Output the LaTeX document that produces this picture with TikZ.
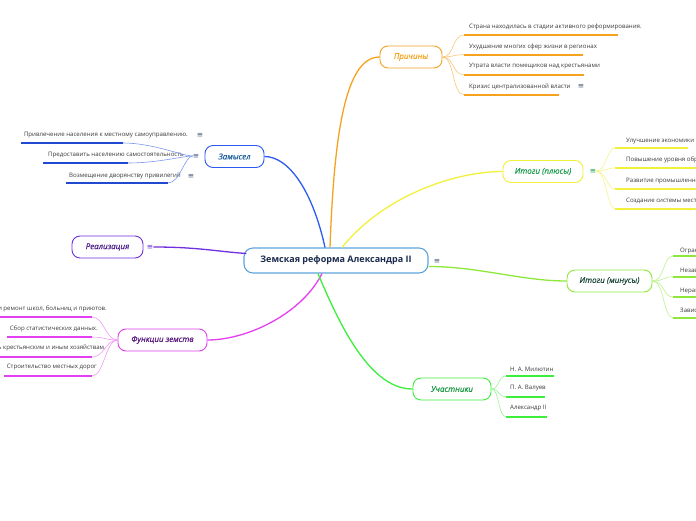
\documentclass[tikz,border=0pt]{standalone}
\usepackage{fontspec}
\setmainfont{Open Sans}
\newfontfamily\symfont{DejaVu Sans}
\newfontfamily\brfont[ItalicFeatures={FakeBold=0.5}]{Open Sans}
\usepackage{xcolor}
\usetikzlibrary{calc}
\definecolor{hubC}{HTML}{5DA5DC}
\definecolor{hubT}{HTML}{1A2B4D}
\definecolor{orC}{HTML}{F5A31E}
\definecolor{orL}{HTML}{F9C874}
\definecolor{blC}{HTML}{2D5BF0}
\definecolor{blT}{HTML}{1B5E9E}
\definecolor{blU}{HTML}{2148D0}
\definecolor{blL}{HTML}{7C98F2}
\definecolor{puC}{HTML}{7030E0}
\definecolor{puT}{HTML}{4B1B8A}
\definecolor{mgC}{HTML}{E43FF0}
\definecolor{mgL}{HTML}{F09AF6}
\definecolor{mgT}{HTML}{5B1B80}
\definecolor{yeC}{HTML}{F2F03A}
\definecolor{yeL}{HTML}{F6F48A}
\definecolor{yeT}{HTML}{1E9E50}
\definecolor{lgC}{HTML}{8EE83A}
\definecolor{lgL}{HTML}{BDF28C}
\definecolor{lgT}{HTML}{1D4A3A}
\definecolor{grC}{HTML}{3DEE3D}
\definecolor{grL}{HTML}{98F598}
\definecolor{grT}{HTML}{1B9A45}
\definecolor{leafT}{HTML}{3A3A3A}
\definecolor{hamC}{HTML}{4A5A7A}

\begin{document}
\begin{tikzpicture}[x=1pt,y=-1pt,
  hub/.style={draw=hubC,line width=1.1pt,rounded corners=9pt,fill=white,
    minimum width=184pt,minimum height=25pt,text=hubT,
    font=\fontsize{9}{10}\selectfont\bfseries},
  branch/.style={rounded corners=8pt,line width=0.9pt,fill=white,
    minimum height=22pt,font=\brfont\fontsize{8}{9}\selectfont\itshape},
  leaf/.style={anchor=west,inner sep=0pt,text=leafT,
    font=\fontsize{6.1}{7}\selectfont},
  ham/.style={inner sep=0pt,text=hamC,font=\symfont\fontsize{7.5}{8}\selectfont},
  main/.style={line width=1.3pt},
  twig/.style={line width=0.6pt},
  uline/.style={line width=1.8pt}]
\path[use as bounding box,fill=white] (0,0) rectangle (696,520);

% centre and main branches
\node[hub] (hub) at (336,260.5) {Земская реформа Александра II};
\node[ham] (hubm) at (437,261) {≡};
\node[branch,draw=orC,text=orC,minimum width=62pt] (why) at (411,57) {Причины};
\node[branch,draw=blC,text=blT,minimum width=59pt] (idea) at (234.5,156.5) {Замысел};
\node[ham] (ideam) at (196,156) {≡};
\node[branch,draw=puC,text=puT,minimum width=71pt] (impl) at (107.5,247) {Реализация};
\node[ham,text=puC] (implm) at (150,247) {≡};
\node[branch,draw=mgC,text=mgT,minimum width=89pt] (func) at (162.5,340) {Функции земств};
\node[branch,draw=yeC,text=yeT,minimum width=80pt] (plus) at (543,171.5) {Итоги (плюсы)};
\node[ham,text=yeT] (plusm) at (593,171) {≡};
\node[branch,draw=lgC,text=lgT,minimum width=85pt] (minus) at (609.5,281) {Итоги (минусы)};
\node[branch,draw=grC,text=grT,minimum width=78pt] (who) at (452,389) {Участники};

% connectors from the centre
\draw[main,orC] ($(hub.north)+(-6,0)$) .. controls +(4,-110) and +(-35,0) .. (why.west);
\draw[main,blC] ($(hub.north)+(-11,0)$) .. controls +(-12,-55) and +(25,0) .. (idea.east);
\draw[main,yeC] ($(hub.north)+(6,0)$) .. controls +(40,-50) and +(-50,0) .. (plus.west);
\draw[main,puC] (implm.east) .. controls +(45,0) and +(-30,-2) .. ($(hub.west)+(3,-7)$);
\draw[main,mgC] ($(hub.south)+(-14,0)$) .. controls +(-20,40) and +(40,0) .. (func.east);
\draw[main,grC] ($(hub.south)+(-18,0)$) .. controls +(25,60) and +(-40,0) .. (who.west);
\draw[main,lgC] ($(hub.east)+(0,6)$) .. controls +(50,0) and +(-45,0) .. (minus.west);

% Причины
\node[leaf] (c1) at (469,27) {Страна находилась в стадии активного реформирования.};
\node[leaf] (c2) at (469,46.5) {Ухудшение многих сфер жизни в регионах};
\node[leaf] (c3) at (469,66.5) {Утрата власти помещиков над крестьянами};
\node[leaf] (c4) at (469,86.5) {Кризис централизованной власти};
\node[ham] (c4m) at (581,86.5) {≡};
\draw[uline,orC] (464,35) coordinate (c1u) -- (618,35);
\draw[uline,orC] (464,54.7) coordinate (c2u) -- (583,54.7);
\draw[uline,orC] (464,74.7) coordinate (c3u) -- (584,74.7);
\draw[uline,orC] (464,94.7) coordinate (c4u) -- (559,94.7);
\draw[twig,orL] (why.east) .. controls +(12,0) and +(-12,0) .. (c1u);
\draw[twig,orL] (why.east) .. controls +(12,0) and +(-12,0) .. (c2u);
\draw[twig,orL] (why.east) .. controls +(12,0) and +(-12,0) .. (c3u);
\draw[twig,orL] (why.east) .. controls +(12,0) and +(-12,0) .. (c4u);

% Замысел
\node[leaf,anchor=east] (z1) at (188,135.5) {Привлечение населения к местному самоуправлению.};
\node[ham] (z1m) at (200,135.5) {≡};
\node[leaf,anchor=east] (z2) at (184,155.5) {Предоставить населению самостоятельность};
\node[leaf,anchor=east] (z3) at (181,175.5) {Возмещение дворянству привилегий};
\node[ham] (z3m) at (191,176) {≡};
\draw[uline,blU] (21,143) -- (123,143) coordinate (z1u);
\draw[uline,blU] (43,163) -- (128,163) coordinate (z2u);
\draw[uline,blU] (66,183) -- (168,183) coordinate (z3u);
\draw[twig,blL] (ideam.west) .. controls +(-10,0) and +(30,0) .. (z1u);
\draw[twig,blL] (ideam.west) .. controls +(-10,0) and +(30,0) .. (z2u);
\draw[twig,blL] (ideam.west) .. controls +(-8,0) and +(12,0) .. (z3u);

% Функции земств
\node[leaf,anchor=east] (f1) at (107,309) {Строительство и ремонт школ, больниц и приютов.};
\node[leaf,anchor=east] (f2) at (98,328.7) {Сбор статистических данных.};
\node[leaf,anchor=east] (f3) at (106,348) {Помощь крестьянским и иным хозяйствам.};
\node[leaf,anchor=east] (f4) at (97,367.5) {Строительство местных дорог};
\draw[uline,mgC] (-5,317) -- (92,317) coordinate (f1u);
\draw[uline,mgC] (7,337) -- (92,337) coordinate (f2u);
\draw[uline,mgC] (-5,357) -- (92,357) coordinate (f3u);
\draw[uline,mgC] (4,376) -- (92,376) coordinate (f4u);
\draw[twig,mgL] (func.west) .. controls +(-12,0) and +(12,0) .. (f1u);
\draw[twig,mgL] (func.west) .. controls +(-12,0) and +(12,0) .. (f2u);
\draw[twig,mgL] (func.west) .. controls +(-12,0) and +(12,0) .. (f3u);
\draw[twig,mgL] (func.west) .. controls +(-12,0) and +(12,0) .. (f4u);

% Итоги (плюсы)
\node[leaf] (p1) at (626,140.7) {Улучшение экономики};
\node[leaf] (p2) at (626,160) {Повышение уровня образования};
\node[leaf] (p3) at (626,181) {Развитие промышленности};
\node[leaf] (p4) at (626,201) {Создание системы местного самоуправления};
\draw[uline,yeC] (615,148) coordinate (p1u) -- (688,148);
\draw[uline,yeC] (615,168) coordinate (p2u) -- (705,168);
\draw[uline,yeC] (615,189) coordinate (p3u) -- (705,189);
\draw[uline,yeC] (615,208.7) coordinate (p4u) -- (705,208.7);
\draw[twig,yeL] (plusm.east) .. controls +(10,0) and +(-8,0) .. (p1u);
\draw[twig,yeL] (plusm.east) .. controls +(10,0) and +(-8,0) .. (p2u);
\draw[twig,yeL] (plusm.east) .. controls +(10,0) and +(-8,0) .. (p3u);
\draw[twig,yeL] (plusm.east) .. controls +(10,0) and +(-8,0) .. (p4u);

% Итоги (минусы)
\node[leaf] (m1) at (680,250.5) {Ограниченность полномочий};
\node[leaf] (m2) at (680,271) {Незавершённость реформы};
\node[leaf] (m3) at (680,291) {Неравное представительство};
\node[leaf] (m4) at (680,311) {Зависимость от администрации};
\draw[uline,lgC] (673,256) coordinate (m1u) -- (705,256);
\draw[uline,lgC] (673,276.7) coordinate (m2u) -- (705,276.7);
\draw[uline,lgC] (673,297) coordinate (m3u) -- (705,297);
\draw[uline,lgC] (673,317.7) coordinate (m4u) -- (705,317.7);
\draw[twig,lgL] (minus.east) .. controls +(12,0) and +(-10,0) .. (m1u);
\draw[twig,lgL] (minus.east) .. controls +(12,0) and +(-10,0) .. (m2u);
\draw[twig,lgL] (minus.east) .. controls +(12,0) and +(-10,0) .. (m3u);
\draw[twig,lgL] (minus.east) .. controls +(12,0) and +(-10,0) .. (m4u);

% Участники
\node[leaf] (a1) at (510,369) {Н. А. Милютин};
\node[leaf] (a2) at (510,388.5) {П. А. Валуев};
\node[leaf] (a3) at (510,408.5) {Александр II};
\draw[uline,grC] (506,376) coordinate (a1u) -- (554,376);
\draw[uline,grC] (506,396.7) coordinate (a2u) -- (545,396.7);
\draw[uline,grC] (506,416.7) coordinate (a3u) -- (547,416.7);
\draw[twig,grL] (who.east) .. controls +(8,0) and +(-8,0) .. (a1u);
\draw[twig,grL] (who.east) .. controls +(8,0) and +(-8,0) .. (a2u);
\draw[twig,grL] (who.east) .. controls +(8,0) and +(-8,0) .. (a3u);
\end{tikzpicture}
\end{document}
